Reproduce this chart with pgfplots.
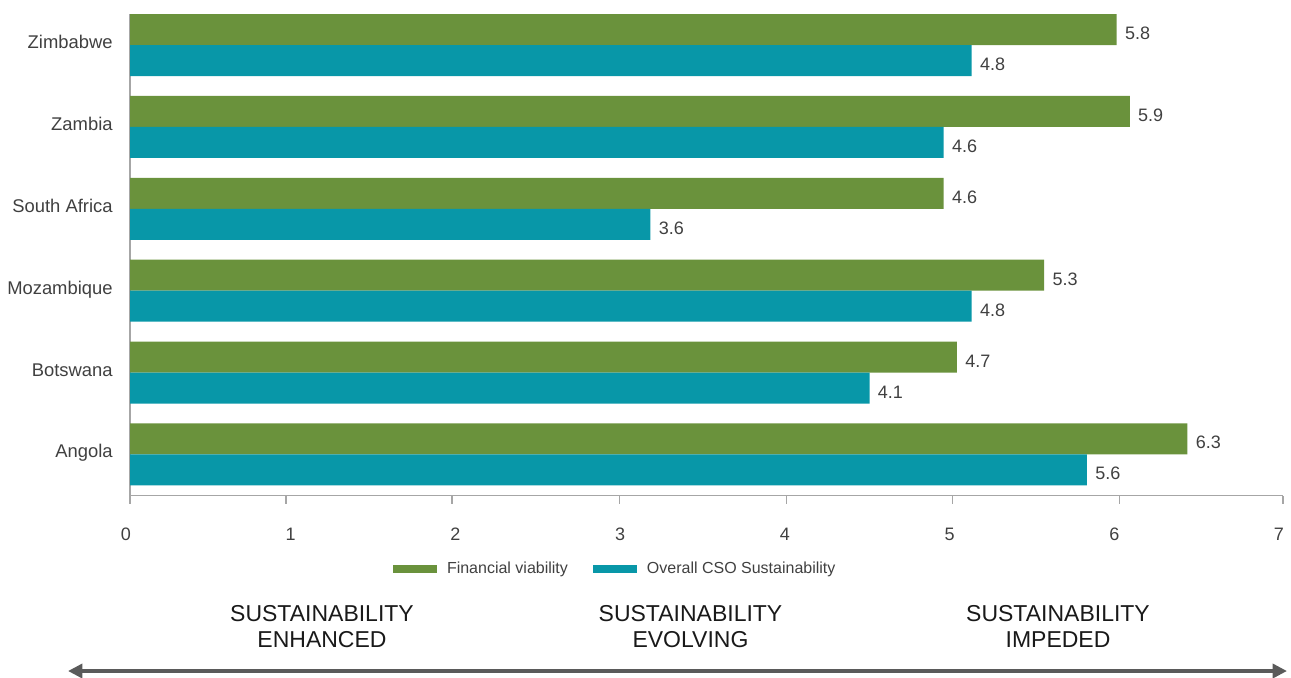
\documentclass[border=0pt]{standalone}
\usepackage{fontspec}
\setmainfont{Liberation Sans}
\usepackage{pgfplots}
\usepackage{pgfplotstable}
\pgfplotsset{compat=1.18}
\usetikzlibrary{arrows.meta}
\definecolor{fvgreen}{RGB}{106,146,60}
\definecolor{csoteal}{RGB}{8,151,168}
\definecolor{txt}{RGB}{64,64,64}
\definecolor{axgray}{RGB}{166,166,166}
\definecolor{arrowgray}{RGB}{90,90,90}
\definecolor{bottomtxt}{RGB}{25,25,25}

% bar lengths as drawn, labels as printed
\pgfplotstableread{
idx green glabel blue blabel
0 6.42 6.3 5.81 5.6
1 5.02 4.7 4.49 4.1
2 5.55 5.3 5.11 4.8
3 4.94 4.6 3.16 3.6
4 6.07 5.9 4.94 4.6
5 5.99 5.8 5.11 4.8
}\datatable

\begin{document}
\begin{tikzpicture}
\begin{axis}[
  at={(65pt,-247.85pt)}, anchor=south west,
  scale only axis, width=576.5pt, height=240.85pt,
  xmin=0, xmax=7, ymin=-0.505, ymax=5.379,
  xbar, bar width=0.3787,
  axis x line*=bottom, axis y line*=left,
  axis line style={-, axgray, line width=0.6pt},
  xtick={0,...,7},
  major tick length=0pt,
  xticklabel style={anchor=base, inner sep=0pt, yshift=-22.5pt, xshift=-2pt, font=\fontsize{9pt}{11pt}\selectfont, text=txt},
  /pgf/number format/assume math mode=true,
  extra x ticks={0,0.947,1.955,2.97,3.985,4.995,6.007,7},
  extra x tick labels={},
  extra x tick style={tick align=outside, major tick length=4pt, tick style={axgray, line width=0.6pt}},
  ytick={0,...,5},
  yticklabels={Angola,Botswana,Mozambique,South Africa,Zambia,Zimbabwe},
  ytick style={draw=none},
  yticklabel style={anchor=base east, inner sep=0pt, xshift=-8.5pt, yshift=-1.75pt, font=\fontsize{9.2pt}{11pt}\selectfont, text=txt},
  legend columns=2,
  legend style={at={(0.2281,-0.1522)}, anchor=west, draw=none, fill=none, inner sep=0pt, outer sep=0pt,
    font=\fontsize{8pt}{10pt}\selectfont, text=txt, nodes={inner sep=0pt},
    /tikz/every odd column/.append style={column sep=5pt},
    /tikz/every even column/.append style={column sep=12.5pt}},
  legend cell align=left,
  nodes near coords,
  point meta=explicit symbolic,
  every node near coord/.append style={anchor=base west, inner sep=0pt, xshift=4pt, yshift=-5pt, font=\fontsize{9pt}{11pt}\selectfont, text=txt},
]
\addplot[fill=fvgreen, draw=none, bar shift=0.18935,
  legend image code/.code={\fill[fvgreen] (0pt,-2pt) rectangle (22pt,2pt);}]
  table[x=green, y=idx, meta=glabel] {\datatable};
\addlegendentry{Financial viability}
\addplot[fill=csoteal, draw=none, bar shift=-0.18935,
  legend image code/.code={\fill[csoteal] (0pt,-2pt) rectangle (22pt,2pt);}]
  table[x=blue, y=idx, meta=blabel] {\datatable};
\addlegendentry{Overall CSO Sustainability}
\end{axis}

\begin{scope}[font=\fontsize{11.5pt}{13pt}\selectfont, text=bottomtxt]
\node[anchor=base] at (161pt,-310.5pt) {SUSTAINABILITY};
\node[anchor=base] at (161pt,-323.5pt) {ENHANCED};
\node[anchor=base] at (345.25pt,-310.5pt) {SUSTAINABILITY};
\node[anchor=base] at (345.25pt,-323.5pt) {EVOLVING};
\node[anchor=base] at (529pt,-310.5pt) {SUSTAINABILITY};
\node[anchor=base] at (529pt,-323.5pt) {IMPEDED};
\end{scope}
\draw[arrowgray, line width=2.35pt, {Triangle[length=7.2pt,width=7pt]}-{Triangle[length=7.2pt,width=7pt]}] (34pt,-335.5pt) -- (643.5pt,-335.5pt);

\pgfresetboundingbox
\path[use as bounding box] (0,0) rectangle (645.5pt,-338.5pt);
\end{tikzpicture}
\end{document}
